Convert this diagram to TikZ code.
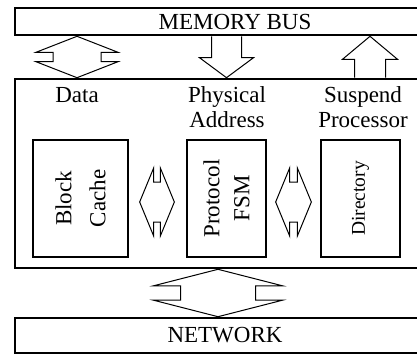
\documentclass[tikz,border=0pt]{standalone}
\usepackage{fontspec}
\setmainfont{Liberation Serif}
\usetikzlibrary{calc}

% block arrows: double (vertical / horizontal) and single
\newcommand{\dblv}[5]{% top tip, bottom tip, head half-width, shaft half-width, head length
  \draw[blk] (#1) -- ($(#1)+(-#3,#5)$) -- ($(#1)+(-#4,#5)$) -- ($(#2)+(-#4,-#5)$)
    -- ($(#2)+(-#3,-#5)$) -- (#2) -- ($(#2)+(#3,-#5)$) -- ($(#2)+(#4,-#5)$)
    -- ($(#1)+(#4,#5)$) -- ($(#1)+(#3,#5)$) -- cycle;}
\newcommand{\dblh}[5]{% left tip, right tip, head half-width, shaft half-width, head length
  \draw[blk] (#1) -- ($(#1)+(#5,-#3)$) -- ($(#1)+(#5,-#4)$) -- ($(#2)+(-#5,-#4)$)
    -- ($(#2)+(-#5,-#3)$) -- (#2) -- ($(#2)+(-#5,#3)$) -- ($(#2)+(-#5,#4)$)
    -- ($(#1)+(#5,#4)$) -- ($(#1)+(#5,#3)$) -- cycle;}
\newcommand{\sarr}[5]{% tail, tip, head half-width, shaft half-width, head offset
  \draw[blk] ($(#1)+(-#4,0)$) -- ($(#2)+(-#4,#5)$) -- ($(#2)+(-#3,#5)$) -- (#2)
    -- ($(#2)+(#3,#5)$) -- ($(#2)+(#4,#5)$) -- ($(#1)+(#4,0)$);}

\begin{document}
\begin{tikzpicture}[
    x=1pt, y=-1pt,
    bus/.style={draw, line width=2.6pt, inner sep=0pt, font=\fontsize{23}{25}\selectfont},
    unit/.style={draw, line width=1.3pt, rotate=90, align=center, inner sep=0pt, minimum width=117pt},
    lbl/.style={align=center, anchor=base, font=\fontsize{23}{25}\selectfont},
    blk/.style={draw, line width=1pt, line join=miter}
]
\useasboundingbox (0,0) rectangle (417,356);
\clip (0,0) rectangle (417,356);

\node[bus, minimum width=440pt, minimum height=27pt] (membus) at (235,21.5) {MEMORY BUS};
\node[bus, minimum width=430pt, minimum height=189pt] (main) at (230,173.5) {};
\node[bus, minimum width=420pt, minimum height=35pt] (network) at (225,335.5) {NETWORK};

\node[lbl] (data) at (77,102) {Data};
\node[lbl] (phys) at (227,127) {Physical\\Address};
\node[lbl] (susp) at (363,127) {Suspend\\Processor};

% rotated units: page right side is .south, page left side is .north
\node[unit, minimum height=95pt, font=\fontsize{23}{34}\selectfont] (cache) at (80.5,198.5) {Block\\Cache};
\node[unit, minimum height=79pt, font=\fontsize{23}{30}\selectfont] (fsm) at (226.5,198.5) {Protocol\\FSM};
\node[unit, minimum height=79pt, font=\fontsize{19.5}{24}\selectfont] (dir) at (360.5,198.5) {Directory};

\coordinate (suspx) at (370,0);
\coordinate (netx) at (218,0);
\coordinate (h1l) at ($(cache.south)+(11,3.5)$);
\coordinate (h1r) at ($(fsm.north)+(-12,3.5)$);
\coordinate (h2l) at ($(fsm.south)+(9,3.5)$);
\coordinate (h2r) at ($(dir.north)+(-9,3.5)$);

\dblv{membus.south -| data}{main.north -| data}{41}{24}{16}
\sarr{membus.south -| fsm}{main.north -| fsm}{27}{15}{-20}
\sarr{main.north -| suspx}{membus.south -| suspx}{27.5}{15.5}{23}
\dblh{h1l}{h1r}{34}{20}{14}
\dblh{h2l}{h2r}{34}{20}{14}
\dblv{main.south -| netx}{network.north -| netx}{64.5}{37.5}{16.5}
\end{tikzpicture}
\end{document}
